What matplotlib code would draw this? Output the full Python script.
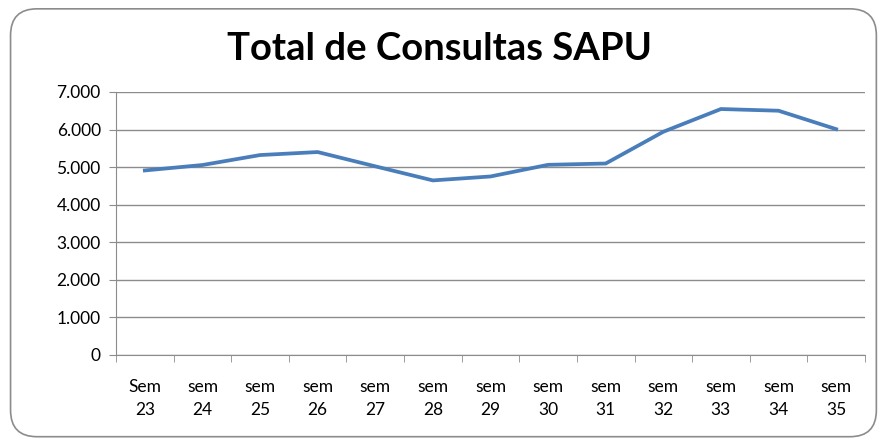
import matplotlib.pyplot as plt
from matplotlib.patches import FancyBboxPatch

plt.rcParams['font.family'] = ['Lato', 'DejaVu Sans']

semanas = ['Sem\n23', 'sem\n24', 'sem\n25', 'sem\n26', 'sem\n27', 'sem\n28', 'sem\n29',
           'sem\n30', 'sem\n31', 'sem\n32', 'sem\n33', 'sem\n34', 'sem\n35']
consultas = [4910, 5055, 5320, 5400, 5020, 4645, 4750, 5060, 5095, 5940, 6545, 6500, 6010]
yticks = [0, 1000, 2000, 3000, 4000, 5000, 6000, 7000]
ylabels = ['0', '1.000', '2.000', '3.000', '4.000', '5.000', '6.000', '7.000']

fig = plt.figure(figsize=(8.79, 4.42), dpi=100)

# rounded border around the chart
border = FancyBboxPatch((0.012, 0.012), 0.985, 0.968, boxstyle='round,pad=0,rounding_size=0.03',
                        transform=fig.transFigure, facecolor='none', edgecolor='#8c8c8c',
                        linewidth=1.2, mutation_aspect=2.0, zorder=-1)
fig.patches.append(border)

ax = fig.add_axes([0.132, 0.197, 0.852, 0.595])
ax.patch.set_alpha(0)
x = list(range(len(semanas)))
ax.plot(x, consultas, color='#4a7ebb', linewidth=2.7, solid_joinstyle='round')

ax.set_xlim(-0.5, len(semanas) - 0.5)
ax.set_ylim(0, 7000)
ax.set_yticks(yticks)
ax.set_yticklabels(ylabels, fontsize=12.5)
ax.set_xticks(x)
ax.set_xticklabels(semanas, fontsize=12.5, linespacing=1.55)
ax.set_xticks([i - 0.5 for i in range(len(semanas) + 1)], minor=True)
ax.tick_params(axis='x', which='major', length=0, pad=17)
ax.tick_params(axis='x', which='minor', length=5, color='#8c8c8c')
ax.tick_params(axis='y', length=5, color='#8c8c8c', pad=6)

ax.grid(axis='y', color='#8c8c8c', linewidth=1)
ax.set_axisbelow(True)
for s in ['top', 'right']:
    ax.spines[s].set_visible(False)
for s in ['left', 'bottom']:
    ax.spines[s].set_color('#8c8c8c')

fig.text(0.5, 0.89, 'Total de Consultas SAPU', ha='center', va='center',
         fontsize=27.5, fontweight='bold')

fig.savefig('out.png', dpi=100)
